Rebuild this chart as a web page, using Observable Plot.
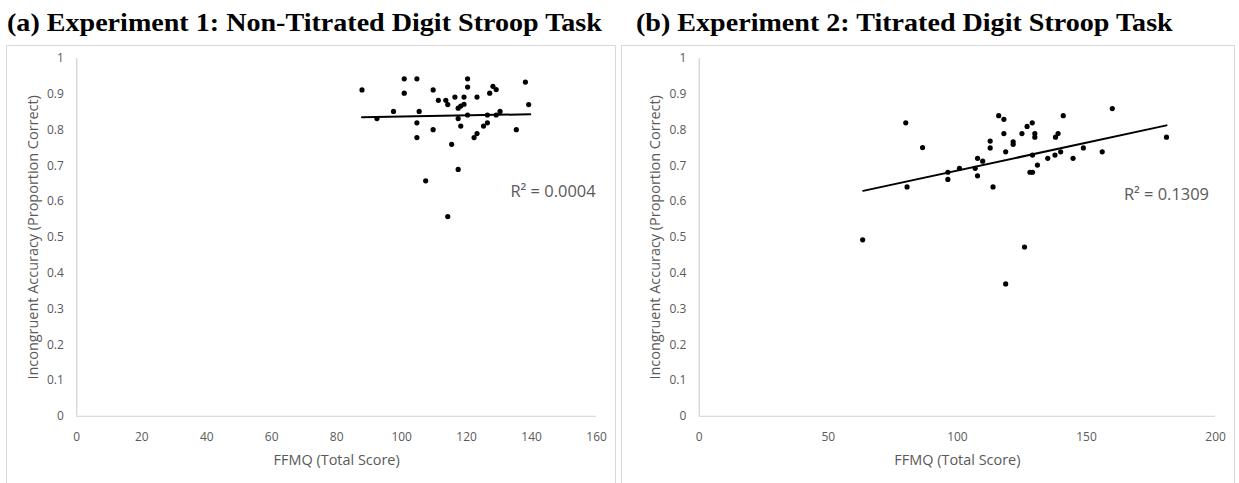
<!DOCTYPE html>
<html>
<head>
<meta charset="utf-8">
<script src="https://cdn.jsdelivr.net/npm/d3@7"></script>
<script src="https://cdn.jsdelivr.net/npm/@observablehq/plot@0.6"></script>
<style>
  html, body { margin: 0; padding: 0; background: #fff; }
  #page { position: relative; width: 1239px; height: 483px; overflow: hidden; background: #fff; }
  .title { position: absolute; top: 8px; font-family: "Liberation Serif", "Times New Roman", serif; font-weight: bold; font-size: 26px; color: #000; white-space: nowrap; transform: scaleX(1.08); transform-origin: left top; }
  .panel { position: absolute; top: 45px; height: 438px; border: 1px solid #d9d9d9; border-bottom: none; box-sizing: border-box; background: #fff; }
  .panel svg { display: block; position: absolute; left: -1px; top: -1px; }
</style>
</head>
<body>
<div id="page">
  <div class="title" id="titleA" style="left:7px"></div>
  <div class="title" id="titleB" style="left:636px"></div>
  <div class="panel" id="panelA" style="left:6px;width:610px"></div>
  <div class="panel" id="panelB" style="left:621px;width:614px"></div>
</div>
<script>
// ---------- data ----------
const titles = ["(a) Experiment 1: Non-Titrated Digit Stroop Task", "(b) Experiment 2: Titrated Digit Stroop Task"];
const xTitle = "FFMQ (Total Score)";
const yTitle = "Incongruent Accuracy (Proportion Correct)";
const yTicks = [0, 0.1, 0.2, 0.3, 0.4, 0.5, 0.6, 0.7, 0.8, 0.9, 1];
const xTicksA = [0, 20, 40, 60, 80, 100, 120, 140, 160];
const xTicksB = [0, 50, 100, 150, 200];

// Experiment 1 (non-titrated)
const ffmqA = [87.8, 92.4, 97.5, 100.8, 100.8, 104.7, 105.4, 104.7, 104.7, 109.7, 109.7, 111.3, 113.6, 114.2,
               115.4, 116.4, 117.4, 118.2, 119.2, 119.2, 117.4, 118.2, 120.3, 120.3, 120.3, 123.2, 122.3, 123.2,
               125.2, 126.4, 126.4, 127.1, 128.1, 129.1, 129.1, 130.3, 135.3, 138.1, 139.1, 117.4, 107.4, 114.2];
const accA  = [0.912, 0.832, 0.852, 0.943, 0.903, 0.943, 0.852, 0.820, 0.779, 0.912, 0.801, 0.883, 0.883, 0.871,
               0.760, 0.892, 0.861, 0.867, 0.872, 0.892, 0.832, 0.811, 0.943, 0.920, 0.842, 0.892, 0.779, 0.790,
               0.811, 0.820, 0.842, 0.903, 0.922, 0.913, 0.842, 0.852, 0.801, 0.934, 0.871, 0.690, 0.658, 0.558];
const trendXA = [87.8, 139.6];
const trendYA = [0.836, 0.844];
const r2A = "R² = 0.0004";
const r2PosA = [133.5, 0.628];

// Experiment 2 (titrated)
const ffmqB = [63.3, 80.5, 86.5, 96.3, 96.3, 100.8, 106.9, 107.8, 107.8, 109.8, 112.7, 112.7, 113.8, 118.7,
               121.6, 121.6, 126.0, 118.7, 129.1, 128.1, 129.1, 131.0, 135.0, 137.8, 140.0, 144.8, 148.8, 156.1,
               80.0, 116.0, 118.0, 118.0, 125.0, 127.0, 129.0, 130.0, 130.0, 138.0, 139.0, 141.0, 160.0, 181.0];
const accB  = [0.493, 0.641, 0.751, 0.682, 0.662, 0.693, 0.693, 0.672, 0.721, 0.713, 0.750, 0.769, 0.641, 0.739,
               0.760, 0.767, 0.473, 0.370, 0.730, 0.682, 0.682, 0.702, 0.721, 0.730, 0.739, 0.721, 0.750, 0.739,
               0.820, 0.840, 0.830, 0.790, 0.790, 0.810, 0.820, 0.790, 0.780, 0.780, 0.790, 0.840, 0.860, 0.780];
const trendXB = [63.5, 181];
const trendYB = [0.630, 0.813];
const r2B = "R² = 0.1309";
const r2PosB = [164.5, 0.618];

// ---------- drawing ----------
const gray = "#595959";
const font = '"Open Sans", "Noto Sans", sans-serif';

function panel({xs, ys, tx, ty, xTicks, xMax, r2, r2Pos, width, marginLeft, marginRight}) {
  const pts = xs.map((x, i) => ({x, y: ys[i]}));
  const trend = tx.map((x, i) => ({x, y: ty[i]}));
  return Plot.plot({
    width, height: 438,
    marginLeft, marginRight, marginTop: 13, marginBottom: 66,
    style: {fontFamily: font, color: gray, background: "transparent", overflow: "visible"},
    x: {domain: [0, xMax]},
    y: {domain: [0, 1]},
    marks: [
      Plot.ruleX([0], {stroke: "#c8c8c8", strokeWidth: 1}),
      Plot.ruleY([0], {stroke: "#d0d0d0", strokeWidth: 1}),
      Plot.axisX({ticks: xTicks, tickSize: 0, tickPadding: 16, fontSize: 12, label: null, tickFormat: d => String(d)}),
      Plot.axisY({ticks: yTicks, tickSize: 0, tickPadding: 13, fontSize: 12, label: null, tickFormat: d => String(d)}),
      Plot.text([xTitle], {frameAnchor: "bottom", dy: 49, fontSize: 14.5, fill: gray, text: d => d}),
      Plot.text([yTitle], {frameAnchor: "left", dx: -44, rotate: -90, textAnchor: "middle", fontSize: 14.5, fill: gray, text: d => d}),
      Plot.line(trend, {x: "x", y: "y", stroke: "#000", strokeWidth: 2}),
      Plot.dot(pts, {x: "x", y: "y", r: 2.6, fill: "#000", stroke: "none"}),
      Plot.text([r2], {x: () => r2Pos[0], y: () => r2Pos[1], text: d => d, textAnchor: "start", fontSize: 16.5, fill: gray})
    ]
  });
}

document.getElementById("titleA").textContent = titles[0];
document.getElementById("titleB").textContent = titles[1];

document.getElementById("panelA").append(panel({
  xs: ffmqA, ys: accA, tx: trendXA, ty: trendYA, xTicks: xTicksA, xMax: 160,
  r2: r2A, r2Pos: r2PosA, width: 610, marginLeft: 70.5, marginRight: 18
}));
document.getElementById("panelB").append(panel({
  xs: ffmqB, ys: accB, tx: trendXB, ty: trendYB, xTicks: xTicksB, xMax: 200,
  r2: r2B, r2Pos: r2PosB, width: 614, marginLeft: 78, marginRight: 18
}));
</script>
</body>
</html>
